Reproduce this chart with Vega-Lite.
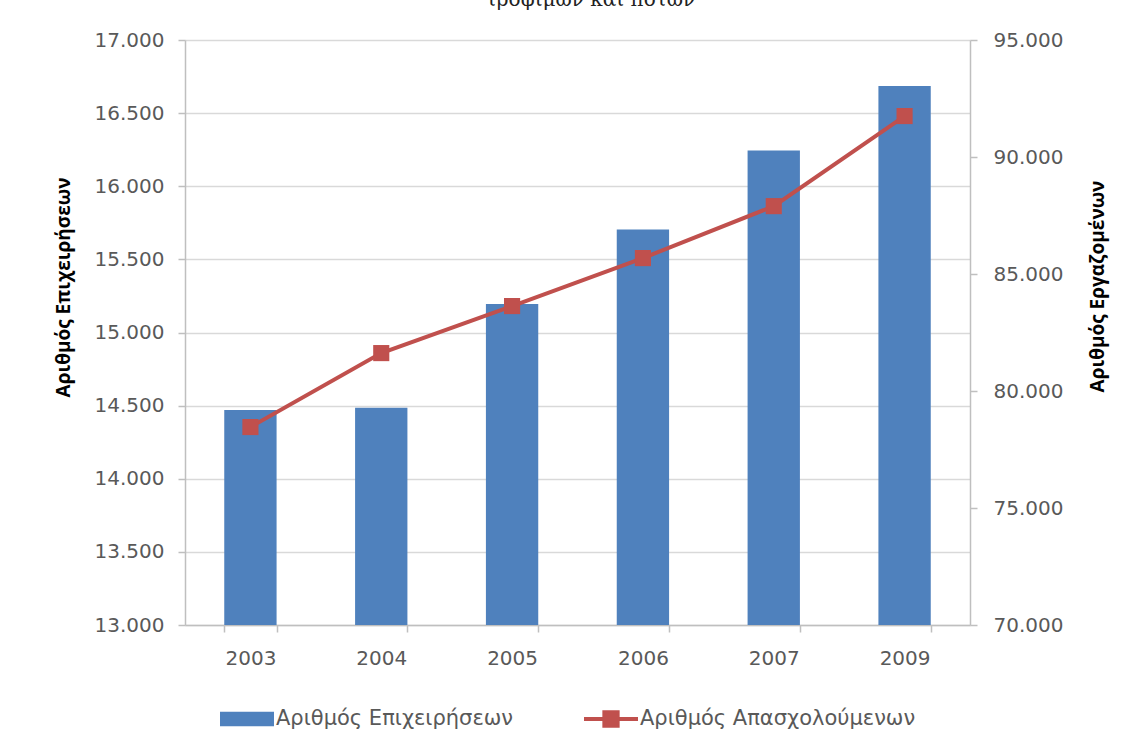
{
  "$schema": "https://vega.github.io/schema/vega-lite/v6.json",
  "width": 785,
  "height": 585,
  "autosize": {"type": "none"},
  "padding": {"left": 185, "top": 40, "right": 163, "bottom": 129},
  "background": "white",
  "title": {
    "text": "τροφίμων και ποτών",
    "anchor": "middle",
    "frame": "group",
    "fontSize": 20,
    "font": "DejaVu Serif",
    "fontWeight": "normal",
    "color": "#222222",
    "offset": 20,
    "dx": 13
  },
  "data": {
    "values": [
      {"year": "2003", "firms": 14470, "employees": 78460, "s1": "Αριθμός Επιχειρήσεων", "s2": "Αριθμός Απασχολούμενων"},
      {"year": "2004", "firms": 14485, "employees": 81620, "s1": "Αριθμός Επιχειρήσεων", "s2": "Αριθμός Απασχολούμενων"},
      {"year": "2005", "firms": 15195, "employees": 83630, "s1": "Αριθμός Επιχειρήσεων", "s2": "Αριθμός Απασχολούμενων"},
      {"year": "2006", "firms": 15705, "employees": 85680, "s1": "Αριθμός Επιχειρήσεων", "s2": "Αριθμός Απασχολούμενων"},
      {"year": "2007", "firms": 16245, "employees": 87900, "s1": "Αριθμός Επιχειρήσεων", "s2": "Αριθμός Απασχολούμενων"},
      {"year": "2009", "firms": 16685, "employees": 91750, "s1": "Αριθμός Επιχειρήσεων", "s2": "Αριθμός Απασχολούμενων"}
    ]
  },
  "encoding": {
    "x": {
      "field": "year",
      "type": "nominal",
      "scale": {"paddingInner": 0.6, "paddingOuter": 0.3},
      "axis": {
        "title": null,
        "labelAngle": 0,
        "labelFontSize": 20,
        "labelFont": "DejaVu Sans",
        "labelColor": "#595959",
        "labelPadding": 16,
        "tickBand": "extent",
        "tickSize": 7,
        "tickColor": "#BFBFBF",
        "tickWidth": 1.5,
        "domainColor": "#BFBFBF",
        "domainWidth": 1.5,
        "grid": false
      }
    }
  },
  "layer": [
    {
      "mark": {"type": "bar", "clip": true},
      "encoding": {
        "y": {
          "field": "firms",
          "type": "quantitative",
          "scale": {"domain": [13000, 17000], "zero": false, "nice": false},
          "axis": {
            "title": "Αριθμός Επιχειρήσεων",
            "titleFont": "Open Sans",
            "titleFontSize": 19,
            "titleFontWeight": "bold",
            "titleColor": "#000000",
            "titlePadding": 21,
            "titleY": 247,
            "values": [13000, 13500, 14000, 14500, 15000, 15500, 16000, 16500, 17000],
            "labelExpr": "replace(format(datum.value, ',.0f'), ',', '.')",
            "labelFontSize": 20,
            "labelFont": "DejaVu Sans",
            "labelColor": "#595959",
            "labelPadding": 14,
            "tickSize": 7,
            "tickColor": "#BFBFBF",
            "tickWidth": 1.5,
            "domainColor": "#BFBFBF",
            "domainWidth": 1.5,
            "grid": true,
            "gridColor": "#D9D9D9",
            "gridWidth": 1.5
          }
        },
        "color": {
          "field": "s1",
          "type": "nominal",
          "scale": {
            "domain": ["Αριθμός Επιχειρήσεων", "Αριθμός Απασχολούμενων"],
            "range": ["#4F81BD", "#C0504D"]
          },
          "legend": {
            "title": null,
            "orient": "none",
            "legendX": 35,
            "legendY": 652,
            "direction": "horizontal",
            "labelFontSize": 21,
            "labelFont": "DejaVu Sans",
            "labelColor": "#595959",
            "labelOffset": 2,
            "labelLimit": 0,
            "columnPadding": 70,
            "symbolSize": 2916,
            "symbolStrokeWidth": 0,
            "encode": {
              "symbols": {
                "update": {
                  "shape": {"signal": "datum.value === 'Αριθμός Επιχειρήσεων' ? 'M-1,-0.27H1V0.27H-1Z' : 'M-1,-0.075H1V0.075H-1Z M-0.32,-0.32H0.32V0.32H-0.32Z'"},
                  "fill": {"scale": "color", "field": "value"},
                  "strokeWidth": {"value": 0},
                  "opacity": {"value": 1}
                }
              }
            }
          }
        }
      }
    },
    {
      "mark": {
        "type": "line",
        "strokeWidth": 4,
        "point": {"shape": "square", "size": 260, "filled": true, "opacity": 1}
      },
      "encoding": {
        "y": {
          "field": "employees",
          "type": "quantitative",
          "scale": {"domain": [70000, 95000], "zero": false, "nice": false},
          "axis": {
            "orient": "right",
            "title": "Αριθμός Εργαζομένων",
            "titleAngle": 270,
            "titleFont": "Open Sans",
            "titleFontSize": 19,
            "titleFontWeight": "bold",
            "titleColor": "#000000",
            "titlePadding": 45,
            "titleY": 246,
            "values": [70000, 75000, 80000, 85000, 90000, 95000],
            "labelExpr": "replace(format(datum.value, ',.0f'), ',', '.')",
            "labelFontSize": 20,
            "labelFont": "DejaVu Sans",
            "labelColor": "#595959",
            "labelPadding": 16,
            "tickSize": 7,
            "tickColor": "#BFBFBF",
            "tickWidth": 1.5,
            "domainColor": "#BFBFBF",
            "domainWidth": 1.5,
            "grid": false
          }
        },
        "color": {"field": "s2", "type": "nominal"}
      }
    }
  ],
  "resolve": {"scale": {"y": "independent"}},
  "config": {"view": {"stroke": null}}
}
